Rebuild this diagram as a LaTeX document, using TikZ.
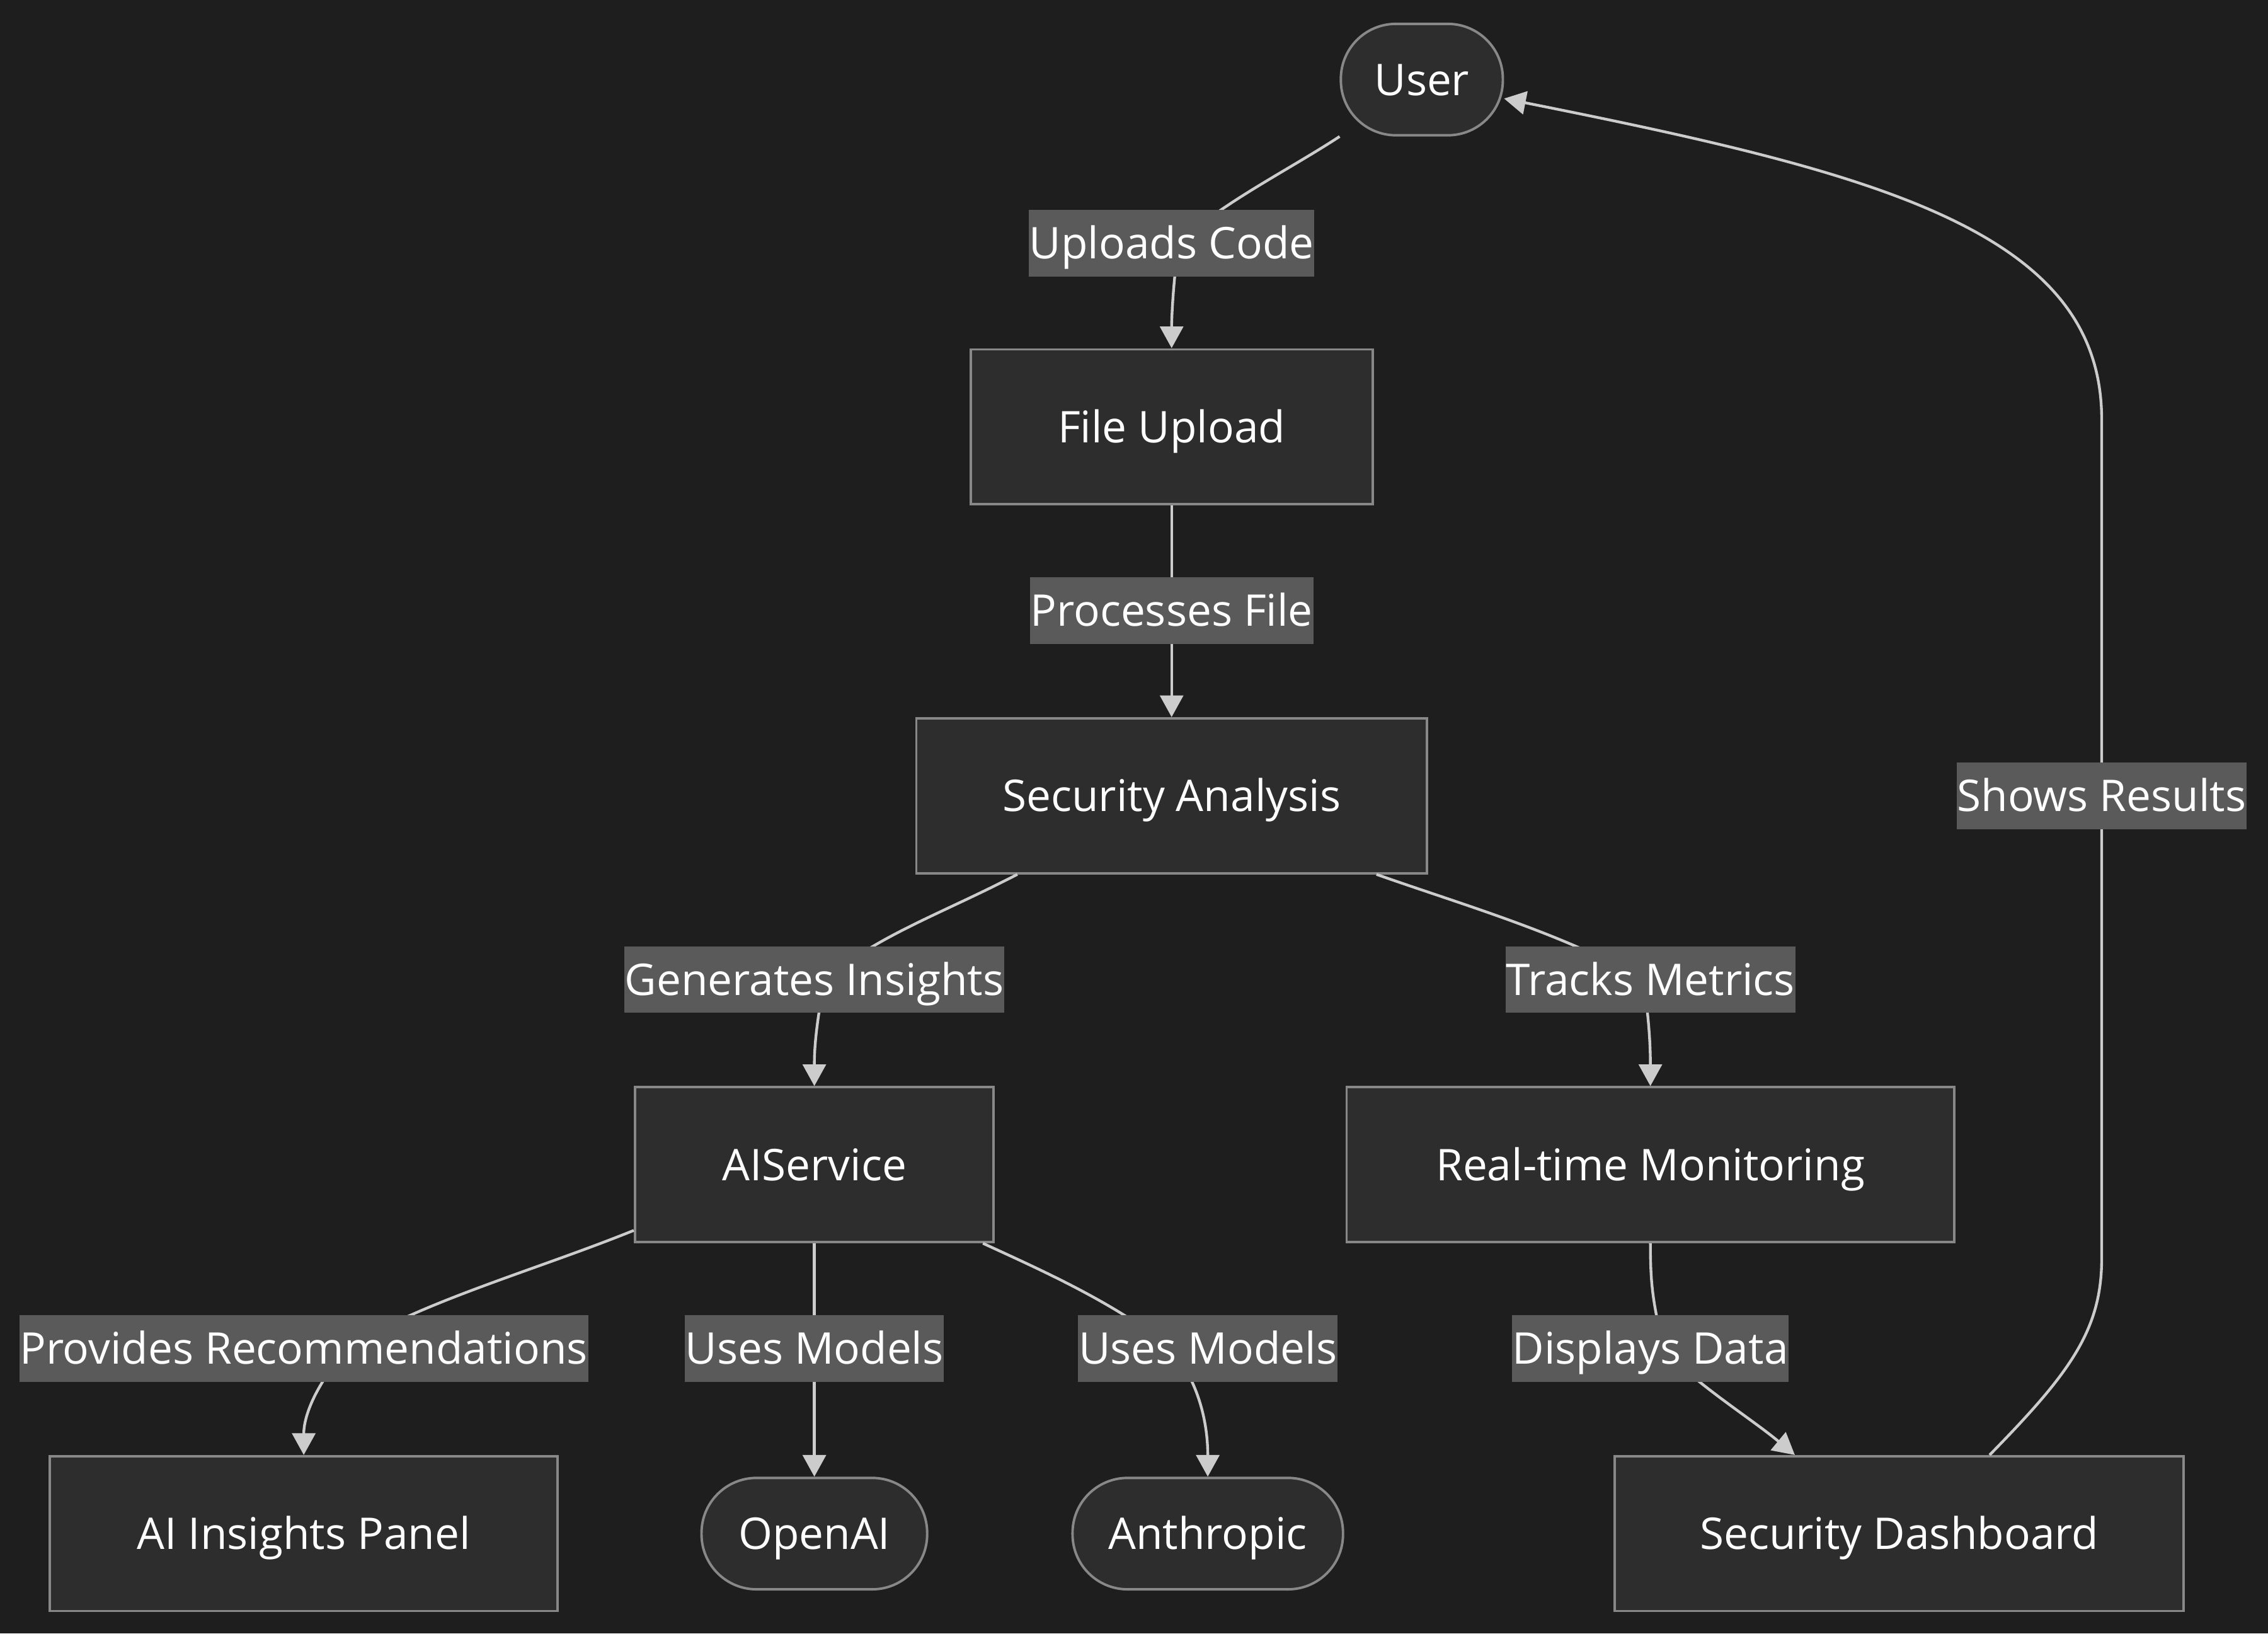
\documentclass[tikz,border=0pt]{standalone}
\usepackage{fontspec}
\setmainfont{Open Sans}
\usetikzlibrary{arrows.meta}
\definecolor{bgc}{HTML}{1E1E1E}
\definecolor{nodefill}{HTML}{2D2D2D}
\definecolor{nodeline}{HTML}{888888}
\definecolor{lblfill}{HTML}{5A5A5A}
\definecolor{edgecol}{HTML}{CCCCCC}
\tikzset{
  txt/.style={text=white, font=\fontsize{30.2}{36}\selectfont, text height=21.6pt, text depth=0pt},
  base/.style={txt, draw=nodeline, fill=nodefill, line width=1.7pt, inner sep=0pt},
  box/.style={base, rectangle, minimum height=107pt},
  stad/.style={base, rectangle, rounded corners=38pt, minimum height=77pt},
  lbl/.style={txt, fill=lblfill, inner xsep=0.3pt, inner ysep=0pt, minimum height=46pt},
  edge/.style={draw=edgecol, line width=1.9pt, -{Triangle[length=15pt,width=16pt]}},
}
\begin{document}
\begin{tikzpicture}[x=1pt,y=-1pt]
\fill[bgc] (0,0) rectangle (1568,1129);
\useasboundingbox (0,0) rectangle (1568,1129);
% nodes
\node[stad, minimum width=112pt] (user) at (983,55) {User};
\node[box, minimum width=278pt] (fu) at (810,295) {File Upload};
\node[box, minimum width=353pt] (sa) at (810,550) {Security Analysis};
\node[box, minimum width=248pt] (ai) at (563,805) {AIService};
\node[box, minimum width=420pt] (rtm) at (1141,805) {Real-time Monitoring};
\node[box, minimum width=351pt] (panel) at (210,1060) {AI Insights Panel};
\node[stad, minimum width=156pt] (oa) at (563,1060) {OpenAI};
\node[stad, minimum width=187pt] (an) at (835,1060) {Anthropic};
\node[box, minimum width=393pt] (dash) at (1313,1060) {Security Dashboard};
% label positions
\coordinate (c1) at (815,168);
\coordinate (c2) at (810,422);
\coordinate (c3) at (570,677);
\coordinate (c4) at (1136,677);
\coordinate (c5) at (240,932);
\coordinate (c6) at (563,932);
\coordinate (c7) at (810,932);
\coordinate (c8) at (1150,932);
\coordinate (c9) at (1453,550);
\coordinate (k1) at (1453,870);
\coordinate (k2) at (1453,290);
% edges
\draw[edge] (user.south west) .. controls (890,118) and (845,140) .. (c1) .. controls (811,195) and (810,220) .. (fu.north);
\draw[edge] (fu.south) -- (c2) -- (sa.north);
\draw[edge] (sa.207) .. controls (650,632) and (610,645) .. (c3) .. controls (564,710) and (563,725) .. (ai.north);
\draw[edge] (sa.-21) .. controls (1010,625) and (1080,645) .. (c4) .. controls (1141,710) and (1141,730) .. (rtm.north);
\draw[edge] (ai.200) .. controls (370,878) and (290,900) .. (c5) .. controls (212,965) and (210,985) .. (panel.north);
\draw[edge] (ai.south) -- (c6) -- (oa.north);
\draw[edge] (ai.-25) .. controls (720,878) and (770,900) .. (c7) .. controls (832,960) and (835,990) .. (an.north);
\draw[edge] (rtm.south) .. controls (1141,890) and (1143,900) .. (c8) .. controls (1170,955) and (1210,980) .. (dash.143.5);
\draw[edge] (dash.41.5) .. controls (1430,950) and (1453,920) .. (k1) -- (c9) -- (k2) .. controls (1453,160) and (1300,120) .. (user.-13);
% labels
\node[lbl] (l1) at (810,168) {Uploads Code};
\node[lbl] (l2) at (c2) {Processes File};
\node[lbl] (l3) at (563,677) {Generates Insights};
\node[lbl] (l4) at (1141,677) {Tracks Metrics};
\node[lbl] (l5) at (210,932) {Provides Recommendations};
\node[lbl] (l6) at (c6) {Uses Models};
\node[lbl] (l7) at (835,932) {Uses Models};
\node[lbl] (l8) at (1141,932) {Displays Data};
\node[lbl] (l9) at (c9) {Shows Results};
\end{tikzpicture}
\end{document}
